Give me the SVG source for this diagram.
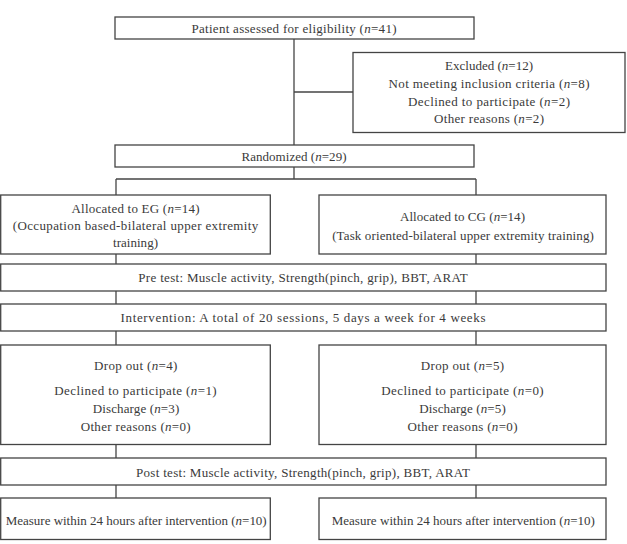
<svg xmlns="http://www.w3.org/2000/svg" width="627" height="544" viewBox="0 0 627 544">
<style>
  .box { fill: #ffffff; stroke: #444444; stroke-width: 1.3; }
  .conn line { stroke: #444444; stroke-width: 1.3; }
  text { font-family: "Liberation Serif", "Times New Roman", serif; font-size: 13px; fill: #3a3a3a; text-anchor: middle; }
  .i { font-style: italic; }
</style>
<rect width="627" height="544" fill="#ffffff"/>
<g id="connectors" class="conn">
  <line x1="294" y1="39" x2="294" y2="145"/>
  <line x1="294" y1="92" x2="353" y2="92"/>
  <line x1="294" y1="167" x2="294" y2="179"/>
  <line x1="116" y1="179" x2="476" y2="179"/>
  <line x1="116" y1="179" x2="116" y2="195"/>
  <line x1="476" y1="179" x2="476" y2="195"/>
  <line x1="116" y1="254" x2="116" y2="264"/>
  <line x1="476" y1="254" x2="476" y2="264"/>
  <line x1="116" y1="291" x2="116" y2="304"/>
  <line x1="476" y1="291" x2="476" y2="304"/>
  <line x1="116" y1="331" x2="116" y2="345"/>
  <line x1="476" y1="331" x2="476" y2="345"/>
  <line x1="116" y1="444" x2="116" y2="458"/>
  <line x1="476" y1="444" x2="476" y2="458"/>
  <line x1="116" y1="485" x2="116" y2="498"/>
  <line x1="476" y1="485" x2="476" y2="498"/>
</g>
<g id="assessed">
  <rect class="box" x="115" y="17" width="359" height="22"/>
  <text x="294" y="33" textLength="205" lengthAdjust="spacing">Patient assessed for eligibility (<tspan class="i">n</tspan>=41)</text>
</g>
<g id="excluded">
  <rect class="box" x="353" y="52.5" width="272" height="80"/>
  <text x="489" y="70" textLength="88" lengthAdjust="spacing">Excluded (<tspan class="i">n</tspan>=12)</text>
  <text x="489" y="88" textLength="201" lengthAdjust="spacing">Not meeting inclusion criteria (<tspan class="i">n</tspan>=8)</text>
  <text x="489" y="105.5" textLength="162" lengthAdjust="spacing">Declined to participate (<tspan class="i">n</tspan>=2)</text>
  <text x="489" y="123" textLength="110" lengthAdjust="spacing">Other reasons (<tspan class="i">n</tspan>=2)</text>
</g>
<g id="randomized">
  <rect class="box" x="115" y="145" width="359" height="22"/>
  <text x="294" y="160.5" textLength="105" lengthAdjust="spacing">Randomized (<tspan class="i">n</tspan>=29)</text>
</g>
<g id="eg">
  <rect class="box" x="0.7" y="195" width="269.6" height="59"/>
  <text x="135.5" y="213" textLength="128" lengthAdjust="spacing">Allocated to EG (<tspan class="i">n</tspan>=14)</text>
  <text x="135.5" y="230" textLength="245.6" lengthAdjust="spacing">(Occupation based-bilateral upper extremity</text>
  <text x="135.5" y="247" textLength="45" lengthAdjust="spacing">training)</text>
</g>
<g id="cg">
  <rect class="box" x="319" y="195" width="287" height="59"/>
  <text x="462.5" y="221" textLength="125" lengthAdjust="spacing">Allocated to CG (<tspan class="i">n</tspan>=14)</text>
  <text x="463" y="239.5" textLength="261.7" lengthAdjust="spacing">(Task oriented-bilateral upper extremity training)</text>
</g>
<g id="pretest">
  <rect class="box" x="0.7" y="264" width="605.3" height="27"/>
  <text x="303" y="282" textLength="329.4" lengthAdjust="spacing">Pre test: Muscle activity, Strength(pinch, grip), BBT, ARAT</text>
</g>
<g id="intervention">
  <rect class="box" x="0.7" y="304" width="605.3" height="27"/>
  <text x="303" y="322" textLength="365" lengthAdjust="spacing">Intervention: A total of 20 sessions, 5 days a week for 4 weeks</text>
</g>
<g id="dropout-eg">
  <rect class="box" x="0.7" y="345" width="269.6" height="99.5"/>
  <text x="135.7" y="370" textLength="83.3" lengthAdjust="spacing">Drop out (<tspan class="i">n</tspan>=4)</text>
  <text x="135.5" y="395" textLength="162.4" lengthAdjust="spacing">Declined to participate (<tspan class="i">n</tspan>=1)</text>
  <text x="136" y="413" textLength="86.6" lengthAdjust="spacing">Discharge (<tspan class="i">n</tspan>=3)</text>
  <text x="135.7" y="430.5" textLength="110" lengthAdjust="spacing">Other reasons (<tspan class="i">n</tspan>=0)</text>
</g>
<g id="dropout-cg">
  <rect class="box" x="319" y="345" width="287" height="99.5"/>
  <text x="462.5" y="370" textLength="83.3" lengthAdjust="spacing">Drop out (<tspan class="i">n</tspan>=5)</text>
  <text x="462.5" y="395" textLength="162.4" lengthAdjust="spacing">Declined to participate (<tspan class="i">n</tspan>=0)</text>
  <text x="462.5" y="413" textLength="86.6" lengthAdjust="spacing">Discharge (<tspan class="i">n</tspan>=5)</text>
  <text x="462.5" y="430.5" textLength="110" lengthAdjust="spacing">Other reasons (<tspan class="i">n</tspan>=0)</text>
</g>
<g id="posttest">
  <rect class="box" x="0.7" y="458" width="605.3" height="27"/>
  <text x="303" y="476.5" textLength="334" lengthAdjust="spacing">Post test: Muscle activity, Strength(pinch, grip), BBT, ARAT</text>
</g>
<g id="measure-eg">
  <rect class="box" x="0.7" y="498" width="269.6" height="41.5"/>
  <text x="136.2" y="525" textLength="261" lengthAdjust="spacing">Measure within 24 hours after intervention (<tspan class="i">n</tspan>=10)</text>
</g>
<g id="measure-cg">
  <rect class="box" x="319" y="498" width="287" height="41.5"/>
  <text x="463.3" y="525" textLength="263.3" lengthAdjust="spacing">Measure within 24 hours after intervention (<tspan class="i">n</tspan>=10)</text>
</g>
</svg>
